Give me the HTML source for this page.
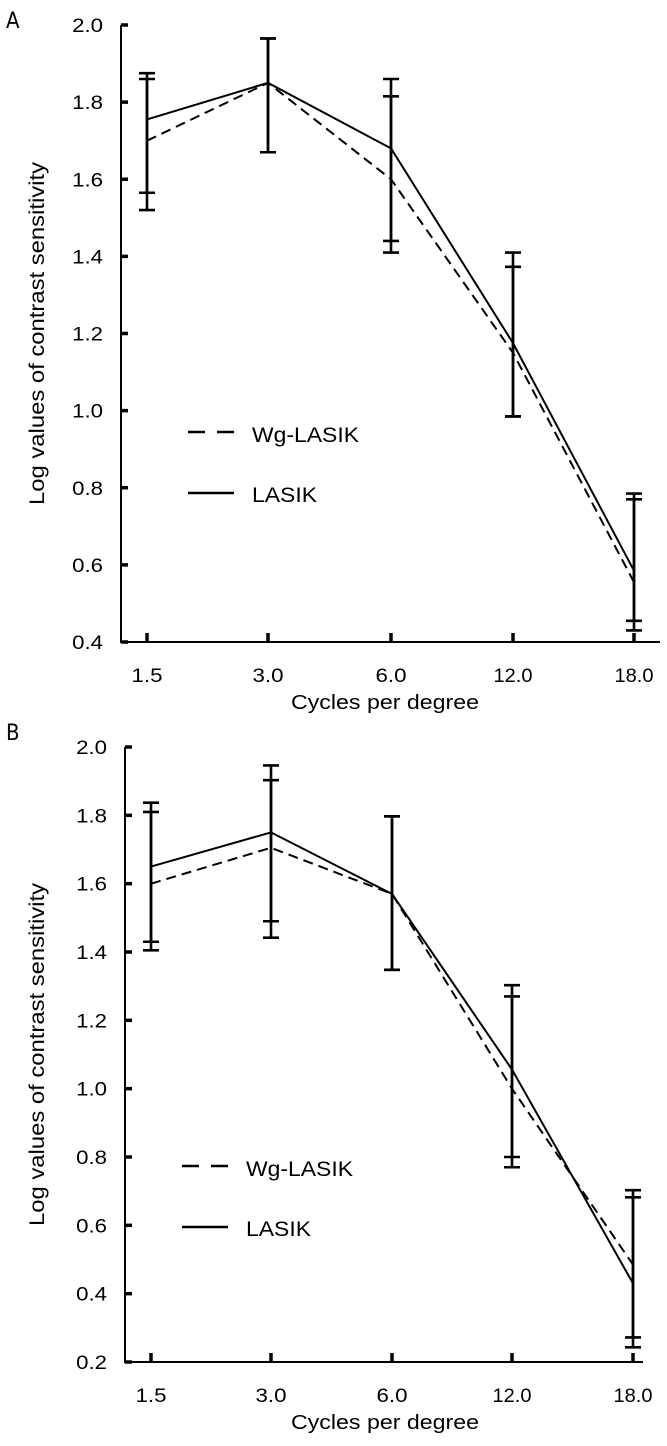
<!DOCTYPE html>
<html><head><meta charset="utf-8">
<style>
html,body{margin:0;padding:0;background:#fff;}
svg{display:block;font-family:"Liberation Sans",Arial,sans-serif;}
</style></head>
<body>
<svg id="fig" width="667" height="1446" viewBox="0 0 667 1446" xmlns="http://www.w3.org/2000/svg">
<text x="6" y="28" font-size="22" font-family="DejaVu Sans Condensed, Liberation Sans, sans-serif">A</text>
<text x="6" y="740" font-size="22" font-family="DejaVu Sans Condensed, Liberation Sans, sans-serif">B</text>
</svg>
<script>
const categories = ["1.5","3.0","6.0","12.0","18.0"];
const aLasik = [1.755, 1.85, 1.68, 1.175, 0.585];
const aWg = [1.70, 1.85, 1.60, 1.15, 0.555];
const aLasikLo = [1.565, 1.67, 1.41, 0.985, 0.43];
const aLasikHi = [1.875, 1.965, 1.86, 1.41, 0.785];
const aWgLo = [1.52, 1.67, 1.44, 0.985, 0.455];
const aWgHi = [1.86, 1.965, 1.815, 1.373, 0.77];
const aTicks = ["0.4","0.6","0.8","1.0","1.2","1.4","1.6","1.8","2.0"];
const bLasik = [1.65, 1.75, 1.57, 1.056, 0.43];
const bWg = [1.60, 1.705, 1.57, 1.0, 0.485];
const bLasikLo = [1.405, 1.442, 1.348, 0.77, 0.243];
const bLasikHi = [1.837, 1.946, 1.797, 1.303, 0.703];
const bWgLo = [1.43, 1.49, 1.348, 0.8, 0.272];
const bWgHi = [1.81, 1.903, 1.797, 1.27, 0.682];
const bTicks = ["0.2","0.4","0.6","0.8","1.0","1.2","1.4","1.6","1.8","2.0"];

const NS = "http://www.w3.org/2000/svg";
const svg = document.getElementById('fig');
function mk(tag, attrs, parent){
  const e = document.createElementNS(NS, tag);
  for (const k in attrs) e.setAttribute(k, attrs[k]);
  (parent||svg).appendChild(e);
  return e;
}
function panel(p){
  const g = mk('g', {});
  
  
  const ymin = parseFloat(p.ticks[0]), ymax = parseFloat(p.ticks[p.ticks.length-1]);
  const yS = v => p.yBot - (v - ymin) / (ymax - ymin) * (p.yBot - p.yTop);
  const xS = i => p.xs[i];
  const ax = mk('path', {d:`M${p.axX},${p.yTop} L${p.axX},${p.yBot} L${p.axRight},${p.yBot}`, fill:'none', stroke:'#000', 'stroke-width':2}, g);
  
  
  p.ticks.forEach(t => {
    const y = yS(parseFloat(t));
    const tk = mk('line', {x1:p.axX, x2:p.axX+7, y1:y, y2:y, stroke:'#000', 'stroke-width':3.5}, g);
    
    
    const tl = mk('text', {x:p.axX-18, y:y+7, 'text-anchor':'end', 'font-size':19, textLength:t.length*10.3, lengthAdjust:'spacingAndGlyphs'}, g);
    tl.textContent = t;
    
    
  });
  categories.forEach((c, i) => {
    const x = xS(i);
    const tk = mk('line', {x1:x, x2:x, y1:p.yBot, y2:p.yBot-9, stroke:'#000', 'stroke-width':3.5}, g);
    
    
    const tl = mk('text', {x:x, y:p.yBot+40, 'text-anchor':'middle', 'font-size':19, textLength:(c.length===3?31:39), lengthAdjust:'spacingAndGlyphs'}, g);
    tl.textContent = c;
    
    
  });
  const xt = mk('text', {x:385, y:p.yBot+67, 'text-anchor':'middle', 'font-size':20, textLength:188, lengthAdjust:'spacingAndGlyphs'}, g);
  xt.textContent = 'Cycles per degree';
  
  
  const cy = (p.yTop + p.yBot) / 2;
  const yt = mk('text', {x:44, y:cy, 'text-anchor':'middle', 'font-size':21, textLength:p.ytLen, lengthAdjust:'spacingAndGlyphs', transform:`rotate(-90 44 ${cy})`}, g);
  yt.textContent = 'Log values of contrast sensitivity';
  
  
  function ebars(lo, hi, nm){
    categories.forEach((c, i) => {
      const x = xS(i), y1 = yS(lo[i]), y2 = yS(hi[i]);
      const eb = mk('path', {d:`M${x},${y1} L${x},${y2} M${x-8},${y1} L${x+8},${y1} M${x-8},${y2} L${x+8},${y2}`, stroke:'#000', 'stroke-width':2.6, fill:'none'}, g);
      
      
    });
  }
  ebars(p.lasikLo, p.lasikHi, 'lasik-error-bar');
  ebars(p.wgLo, p.wgHi, 'wg-lasik-error-bar');
  const line = (vals, dash, nm) => {
    const d = vals.map((v, i) => (i ? 'L' : 'M') + xS(i) + ',' + yS(v)).join(' ');
    const l = mk('path', {d:d, fill:'none', stroke:'#000', 'stroke-width':2, 'stroke-dasharray':dash}, g);
    
    
  };
  line(p.wg, '10,6', 'wg-lasik-line');
  line(p.lasik, 'none', 'lasik-line');
  const l1 = mk('line', {x1:p.legX, x2:p.legX+46, y1:p.legY, y2:p.legY, stroke:'#000', 'stroke-width':2.5, 'stroke-dasharray':'17,12'}, g);
  
  
  const t1 = mk('text', {x:p.legX+64, y:p.legY+10, 'font-size':21, textLength:107, lengthAdjust:'spacingAndGlyphs'}, g);
  t1.textContent = 'Wg-LASIK';
  
  
  const l2 = mk('line', {x1:p.legX, x2:p.legX+46, y1:p.legY+61, y2:p.legY+61, stroke:'#000', 'stroke-width':2.5}, g);
  
  
  const t2 = mk('text', {x:p.legX+64, y:p.legY+70, 'font-size':21, textLength:65, lengthAdjust:'spacingAndGlyphs'}, g);
  t2.textContent = 'LASIK';
  
  
}
panel({name:'panel-a-chart', ticks:aTicks, yTop:25, yBot:642, axX:121, axRight:660, ytLen:343,
  xs:[147,268,391,513,634], lasik:aLasik, wg:aWg, lasikLo:aLasikLo, lasikHi:aLasikHi, wgLo:aWgLo, wgHi:aWgHi,
  legX:188, legY:432});
panel({name:'panel-b-chart', ticks:bTicks, yTop:747, yBot:1362, axX:125, axRight:643, ytLen:343,
  xs:[151,271,392,512,633], lasik:bLasik, wg:bWg, lasikLo:bLasikLo, lasikHi:bLasikHi, wgLo:bWgLo, wgHi:bWgHi,
  legX:182, legY:1166});
</script>
</body></html>
